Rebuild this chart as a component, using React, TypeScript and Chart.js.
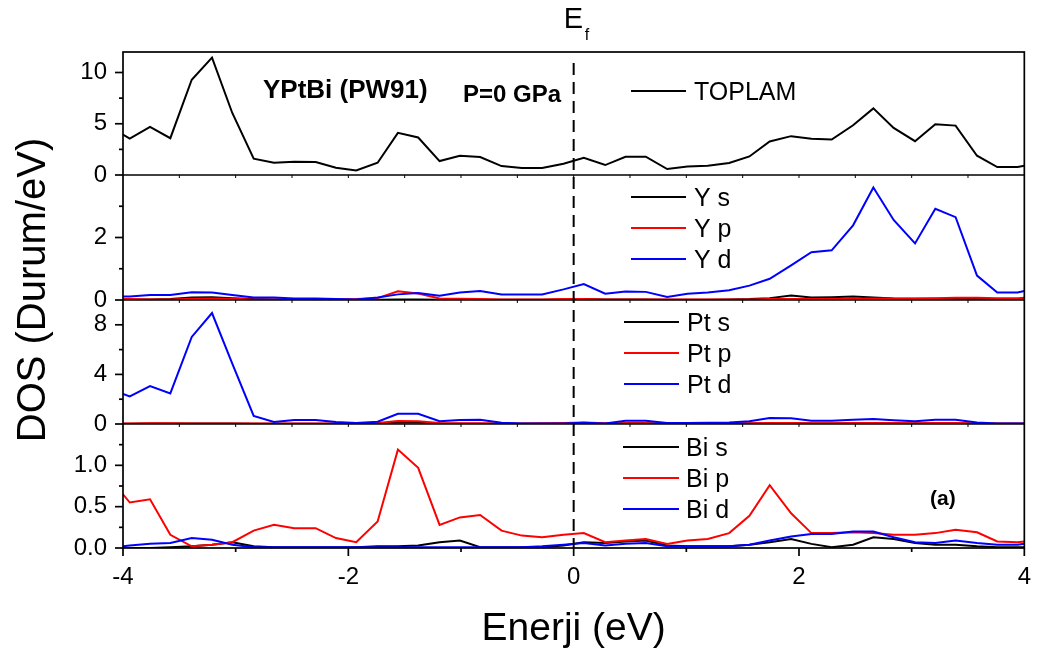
import React, { useEffect, useRef } from 'react';
import { Chart, registerables } from 'chart.js';

Chart.register(...registerables);

const FONT = '"Liberation Sans", Arial, Helvetica, sans-serif';

// Energy grid (eV)
const ENERGY = [
  -4, -3.94, -3.76, -3.58, -3.39, -3.21, -3.03, -2.84, -2.66, -2.48, -2.29, -2.11,
  -1.93, -1.74, -1.56, -1.38, -1.19, -1.01, -0.83, -0.64, -0.46, -0.28, -0.09,
  0.09, 0.28, 0.46, 0.64, 0.83, 1.01, 1.19, 1.38, 1.56, 1.74, 1.93, 2.11, 2.29,
  2.48, 2.66, 2.84, 3.03, 3.21, 3.39, 3.58, 3.76, 3.94, 4,
];

// Total DOS
const TOPLAM = [
  3.95, 3.56, 4.69, 3.59, 9.29, 11.46, 6.05, 1.59, 1.2, 1.29, 1.26, 0.71, 0.45, 1.2, 4.11, 3.66,
  1.36, 1.88, 1.75, 0.87, 0.68, 0.68, 1.1,
  1.68, 0.97, 1.78, 1.78, 0.58, 0.84, 0.91, 1.17, 1.81, 3.27, 3.79, 3.53, 3.46, 4.85, 6.5, 4.6,
  3.3, 4.95, 4.82, 1.88, 0.78, 0.78, 0.9,
];

// Y partial DOS
const Y_S = [
  0.02, 0.02, 0.02, 0.03, 0.08, 0.09, 0.06, 0.03, 0.02, 0.02, 0.02, 0.01, 0.01, 0.01, 0.02, 0.02,
  0.01, 0.01, 0.01, 0.01, 0.01, 0.01, 0.02,
  0.03, 0.02, 0.02, 0.02, 0.01, 0.01, 0.01, 0.02, 0.03, 0.06, 0.14, 0.08, 0.09, 0.11, 0.08, 0.05,
  0.04, 0.04, 0.04, 0.03, 0.03, 0.03, 0.03,
];
const Y_P = [
  0.03, 0.03, 0.02, 0.02, 0.04, 0.05, 0.04, 0.02, 0.02, 0.02, 0.02, 0.02, 0.03, 0.06, 0.28, 0.21,
  0.05, 0.04, 0.03, 0.02, 0.02, 0.02, 0.03,
  0.03, 0.02, 0.02, 0.02, 0.02, 0.02, 0.02, 0.02, 0.02, 0.03, 0.03, 0.03, 0.04, 0.04, 0.05, 0.05,
  0.05, 0.06, 0.07, 0.07, 0.06, 0.06, 0.07,
];
const Y_D = [
  0.11, 0.11, 0.16, 0.16, 0.25, 0.24, 0.16, 0.08, 0.08, 0.05, 0.05, 0.03, 0.02, 0.08, 0.18, 0.22,
  0.14, 0.24, 0.29, 0.18, 0.18, 0.18, 0.34,
  0.51, 0.2, 0.27, 0.26, 0.1, 0.2, 0.24, 0.31, 0.46, 0.68, 1.11, 1.53, 1.59, 2.39, 3.6, 2.56,
  1.81, 2.92, 2.65, 0.78, 0.24, 0.24, 0.29,
];

// Pt partial DOS
const PT_S = [
  0.03, 0.03, 0.04, 0.04, 0.05, 0.05, 0.04, 0.03, 0.02, 0.02, 0.02, 0.02, 0.02, 0.04, 0.12, 0.12,
  0.04, 0.03, 0.03, 0.02, 0.02, 0.02, 0.03,
  0.04, 0.03, 0.06, 0.06, 0.03, 0.03, 0.03, 0.03, 0.04, 0.05, 0.06, 0.05, 0.05, 0.06, 0.06, 0.05,
  0.04, 0.05, 0.05, 0.03, 0.02, 0.02, 0.02,
];
const PT_P = [
  0.05, 0.05, 0.06, 0.06, 0.05, 0.05, 0.05, 0.04, 0.04, 0.04, 0.04, 0.04, 0.04, 0.08, 0.25, 0.22,
  0.08, 0.07, 0.07, 0.05, 0.05, 0.06, 0.08,
  0.12, 0.06, 0.07, 0.07, 0.05, 0.05, 0.06, 0.06, 0.06, 0.08, 0.08, 0.07, 0.07, 0.08, 0.09, 0.08,
  0.07, 0.08, 0.08, 0.06, 0.05, 0.05, 0.05,
];
const PT_D = [
  2.42, 2.23, 3.06, 2.47, 7.02, 8.95, 4.87, 0.65, 0.16, 0.32, 0.32, 0.16, 0.08, 0.19, 0.83, 0.83,
  0.22, 0.32, 0.35, 0.11, 0.05, 0.05, 0.05,
  0.11, 0.05, 0.27, 0.27, 0.08, 0.08, 0.11, 0.13, 0.22, 0.48, 0.46, 0.27, 0.27, 0.35, 0.4, 0.3,
  0.22, 0.35, 0.35, 0.13, 0.05, 0.05, 0.05,
];

// Bi partial DOS
const BI_S = [
  0.0, 0.0, 0.0, 0.01, 0.02, 0.04, 0.07, 0.02, 0.01, 0.01, 0.01, 0.01, 0.01, 0.02, 0.02, 0.03,
  0.07, 0.09, 0.01, 0.01, 0.01, 0.01, 0.03,
  0.07, 0.06, 0.08, 0.09, 0.03, 0.02, 0.02, 0.02, 0.04, 0.07, 0.11, 0.05, 0.01, 0.04, 0.13, 0.11,
  0.06, 0.04, 0.04, 0.02, 0.01, 0.01, 0.01,
];
const BI_P = [
  0.65, 0.55, 0.59, 0.16, 0.02, 0.04, 0.07, 0.21, 0.28, 0.24, 0.24, 0.12, 0.07, 0.32, 1.19, 0.97,
  0.28, 0.37, 0.4, 0.21, 0.15, 0.13, 0.16,
  0.18, 0.07, 0.09, 0.11, 0.05, 0.09, 0.11, 0.18, 0.39, 0.76, 0.42, 0.18, 0.18, 0.19, 0.18, 0.16,
  0.16, 0.18, 0.22, 0.19, 0.08, 0.07, 0.08,
];
const BI_D = [
  0.02, 0.03, 0.05, 0.06, 0.12, 0.1, 0.04, 0.01, 0.01, 0.01, 0.01, 0.01, 0.01, 0.01, 0.01, 0.01,
  0.01, 0.01, 0.01, 0.01, 0.01, 0.02, 0.04,
  0.06, 0.03, 0.05, 0.06, 0.02, 0.02, 0.02, 0.02, 0.04, 0.09, 0.14, 0.17, 0.17, 0.2, 0.2, 0.13,
  0.07, 0.06, 0.09, 0.06, 0.04, 0.04, 0.05,
];

// Axis ticks
const X_TICKS = [-4, -2, 0, 2, 4];
const X_MINOR = [-3, -1, 1, 3];
const TOT_TICKS = [0, 5, 10];
const TOT_MINOR = [2.5, 7.5];
const Y_TICKS = [0, 2];
const Y_MINOR = [1, 3];
const PT_TICKS = [0, 4, 8];
const PT_MINOR = [2, 6];
const BI_TICKS = [0, 0.5, 1.0];
const BI_MINOR = [0.25, 0.75, 1.25];

const BLACK = '#000000';
const RED = '#ff0000';
const BLUE = '#0000ff';

export default function App() {
  const ref = useRef<HTMLCanvasElement>(null);

  useEffect(() => {
    const canvas = ref.current;
    if (!canvas) return;

    const series = (label: string, vals: number[], color: string, yAxisID: string, order: number) => ({
      label,
      data: ENERGY.map((x, i) => ({ x, y: vals[i] })),
      borderColor: color,
      backgroundColor: color,
      borderWidth: 2,
      pointRadius: 0,
      pointHoverRadius: 0,
      tension: 0,
      fill: false,
      yAxisID,
      order,
    });

    const yAxis = (
      min: number,
      max: number,
      major: number[],
      weight: number,
      stackWeight: number,
      decimals: number,
    ) => ({
      type: 'linear',
      position: 'left',
      stack: 'dos',
      stackWeight,
      weight,
      min,
      max,
      afterBuildTicks: (s: any) => {
        s.ticks = major.map((v) => ({ value: v }));
      },
      afterFit: (s: any) => {
        s.width = 123;
      },
      grid: { display: false, drawTicks: false },
      border: { display: false },
      ticks: {
        padding: 16,
        color: BLACK,
        autoSkip: false,
        font: { family: FONT, size: 24 },
        callback: (v: any) => Number(v).toFixed(decimals),
      },
    });

    const frame = {
      id: 'dosFrame',
      afterDraw(chart: any) {
        const { ctx, chartArea: ca, scales } = chart;
        const sx = scales.x;
        const panels = [
          { s: scales.yTot, minor: TOT_MINOR, major: TOT_TICKS },
          { s: scales.yY, minor: Y_MINOR, major: Y_TICKS },
          { s: scales.yPt, minor: PT_MINOR, major: PT_TICKS },
          { s: scales.yBi, minor: BI_MINOR, major: BI_TICKS },
        ];
        ctx.save();
        ctx.strokeStyle = BLACK;
        ctx.fillStyle = BLACK;
        ctx.lineWidth = 1.7;
        ctx.lineCap = 'butt';

        // outer frame
        ctx.strokeRect(ca.left, ca.top, ca.right - ca.left, ca.bottom - ca.top);

        // panel separators + small ticks on separators
        for (let i = 0; i < panels.length - 1; i++) {
          const yb = panels[i].s.bottom;
          ctx.beginPath();
          ctx.moveTo(ca.left, yb);
          ctx.lineTo(ca.right, yb);
          ctx.stroke();
          ctx.lineWidth = 1;
          for (let e = -3.5; e < 4; e += 0.5) {
            const px = sx.getPixelForValue(e);
            ctx.beginPath();
            ctx.moveTo(px, yb);
            ctx.lineTo(px, yb + 3);
            ctx.stroke();
          }
          ctx.lineWidth = 1.7;
        }

        // y ticks
        for (const p of panels) {
          for (const v of p.major) {
            const py = p.s.getPixelForValue(v);
            ctx.beginPath();
            ctx.moveTo(ca.left - 8, py);
            ctx.lineTo(ca.left, py);
            ctx.stroke();
          }
          for (const v of p.minor) {
            const py = p.s.getPixelForValue(v);
            ctx.beginPath();
            ctx.moveTo(ca.left - 4, py);
            ctx.lineTo(ca.left, py);
            ctx.stroke();
          }
        }
        // x ticks
        for (const v of X_TICKS) {
          const px = sx.getPixelForValue(v);
          ctx.beginPath();
          ctx.moveTo(px, ca.bottom);
          ctx.lineTo(px, ca.bottom + 8);
          ctx.stroke();
        }
        for (const v of X_MINOR) {
          const px = sx.getPixelForValue(v);
          ctx.beginPath();
          ctx.moveTo(px, ca.bottom);
          ctx.lineTo(px, ca.bottom + 4);
          ctx.stroke();
        }

        // Fermi level dashed line
        const x0 = sx.getPixelForValue(0);
        ctx.lineWidth = 2;
        ctx.setLineDash([12, 7]);
        ctx.beginPath();
        ctx.moveTo(x0, ca.top + 11);
        ctx.lineTo(x0, ca.bottom);
        ctx.stroke();
        ctx.setLineDash([]);

        // E_f label
        ctx.textAlign = 'left';
        ctx.textBaseline = 'alphabetic';
        ctx.font = `29px ${FONT}`;
        ctx.fillText('E', x0 - 10, 28);
        ctx.font = `16px ${FONT}`;
        ctx.fillText('f', x0 + 11, 40);

        // annotations
        ctx.font = `bold 26px ${FONT}`;
        ctx.fillText('YPtBi (PW91)', 263, 98);
        ctx.font = `bold 24px ${FONT}`;
        ctx.fillText('P=0 GPa', 463, 102);
        ctx.font = `bold 21px ${FONT}`;
        ctx.fillText('(a)', 930, 505);

        // legends
        const ds = chart.data.datasets;
        const legend = (ids: string[], top: number, x1: number, x2: number, tx: number, gap: number) => {
          ctx.font = `25px ${FONT}`;
          ids.forEach((lab, i) => {
            const d = ds.find((q: any) => q.label === lab);
            const y = top + i * gap;
            ctx.strokeStyle = d.borderColor;
            ctx.lineWidth = 2;
            ctx.beginPath();
            ctx.moveTo(x1, y);
            ctx.lineTo(x2, y);
            ctx.stroke();
            ctx.fillStyle = BLACK;
            ctx.fillText(lab, tx, y + 9);
          });
        };
        legend(['TOPLAM'], 91, 631, 686, 694, 31);
        legend(['Y s', 'Y p', 'Y d'], 197, 631, 686, 694, 31);
        legend(['Pt s', 'Pt p', 'Pt d'], 322, 624, 679, 687, 31);
        legend(['Bi s', 'Bi p', 'Bi d'], 447, 623, 679, 686, 31);

        // axis titles
        ctx.fillStyle = BLACK;
        ctx.textAlign = 'center';
        ctx.font = `39px ${FONT}`;
        ctx.fillText('Enerji (eV)', (ca.left + ca.right) / 2, 640);
        ctx.save();
        ctx.translate(45, 290);
        ctx.rotate(-Math.PI / 2);
        ctx.font = `40px ${FONT}`;
        ctx.fillText('DOS (Durum/eV)', 0, 0);
        ctx.restore();

        ctx.restore();
      },
    };

    const chart = new Chart(canvas, {
      type: 'line',
      data: {
        datasets: [
          series('TOPLAM', TOPLAM, BLACK, 'yTot', 0),
          series('Y s', Y_S, BLACK, 'yY', 2),
          series('Y p', Y_P, RED, 'yY', 1),
          series('Y d', Y_D, BLUE, 'yY', 0),
          series('Pt s', PT_S, BLACK, 'yPt', 2),
          series('Pt p', PT_P, RED, 'yPt', 1),
          series('Pt d', PT_D, BLUE, 'yPt', 0),
          series('Bi s', BI_S, BLACK, 'yBi', 2),
          series('Bi p', BI_P, RED, 'yBi', 1),
          series('Bi d', BI_D, BLUE, 'yBi', 0),
        ] as any,
      },
      options: {
        responsive: false,
        devicePixelRatio: 1,
        animation: false,
        events: [],
        layout: { padding: { top: 52, right: 17, left: 0, bottom: 0 } },
        plugins: {
          legend: { display: false },
          tooltip: { enabled: false },
          title: { display: false },
        },
        scales: {
          x: {
            type: 'linear',
            min: -4,
            max: 4,
            afterBuildTicks: (s: any) => {
              s.ticks = X_TICKS.map((v) => ({ value: v }));
            },
            afterFit: (s: any) => {
              s.height = 113;
            },
            grid: { display: false, drawTicks: false },
            border: { display: false },
            ticks: {
              padding: 15,
              color: BLACK,
              autoSkip: false,
              maxRotation: 0,
              font: { family: FONT, size: 24 },
              callback: (v: any) => String(v),
            },
          },
          yBi: yAxis(0, 1.5, BI_TICKS, 1, 124, 1),
          yPt: yAxis(0, 10, PT_TICKS, 2, 124, 0),
          yY: yAxis(0, 4, Y_TICKS, 3, 125, 0),
          yTot: yAxis(0, 12, TOT_TICKS, 4, 123, 0),
        } as any,
      },
      plugins: [frame],
    } as any);

    return () => chart.destroy();
  }, []);

  return (
    <div style={{ position: 'absolute', left: 0, top: 0, width: 1046, height: 661, background: '#fff' }}>
      <canvas ref={ref} width={1046} height={661} style={{ display: 'block', width: 1046, height: 661 }} />
    </div>
  );
}
